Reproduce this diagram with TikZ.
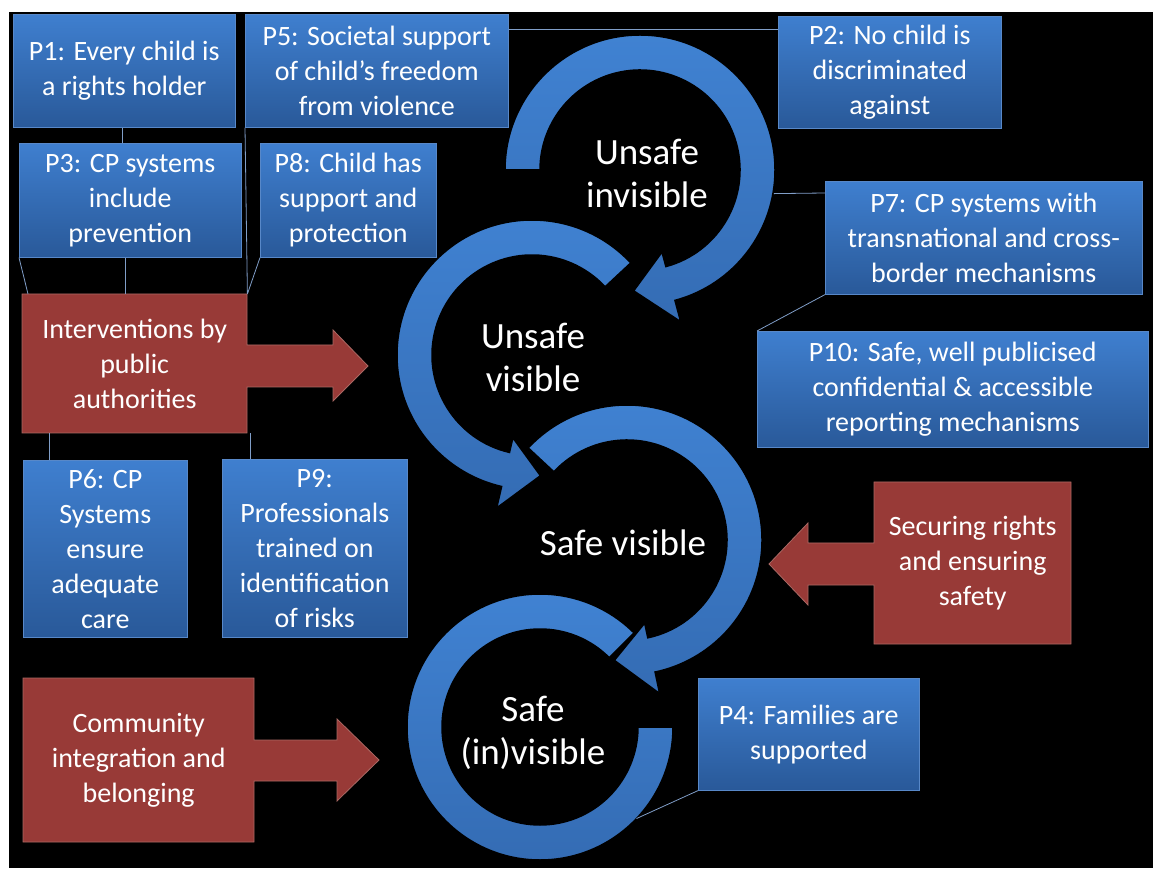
\documentclass[tikz,border=0pt]{standalone}
\usepackage{fontspec}
\setmainfont{Carlito}
\usepackage{tikz}
\usetikzlibrary{shapes,arrows,calc,positioning}
\definecolor{boxtop}{RGB}{63,127,207}
\definecolor{boxbot}{RGB}{41,89,153}
\definecolor{boxline}{RGB}{88,136,200}
\definecolor{redfill}{RGB}{152,58,55}
\definecolor{redline}{RGB}{170,105,100}
\definecolor{ringtop}{RGB}{64,130,210}
\definecolor{ringbot}{RGB}{52,108,180}
\definecolor{connline}{RGB}{128,158,200}
\tikzstyle{pbox} = [rectangle,draw=boxline,line width=0.6pt,top color=boxtop,
  bottom color=boxbot,text=white,align=center,anchor=north west,inner sep=0pt,
  font=\fontsize{28}{35}\selectfont]
\tikzstyle{rbox} = [rectangle,anchor=north west,inner sep=0pt,text=white,
  align=center,font=\fontsize{28}{35}\selectfont]
\tikzstyle{redarrow} = [fill=redfill,draw=redline,line width=0.8pt]
\tikzstyle{ring} = [top color=ringtop,bottom color=ringbot,draw=black,line width=1.5pt]
\tikzstyle{stage} = [text=white,align=center,font=\fontsize{37}{43}\selectfont]
\tikzstyle{conn} = [draw=connline,line width=0.8pt]
\newcommand{\ringarrow}[4]{%
  \shadedraw[ring] ($(#1)+(#2:135pt)$) arc[start angle=#2,end angle=#3,radius=135pt]
    -- ($(#1)+(#3:157pt)$) -- ($(#1)+(#4:121pt)$) -- ($(#1)+(#3:85pt)$)
    -- ($(#1)+(#3:100pt)$) arc[start angle=#3,end angle=#2,radius=100pt] -- cycle;}

\begin{document}
\begin{tikzpicture}[x=1pt,y=1pt]
\useasboundingbox (0,0) rectangle (1153,868);
\fill[white] (0,0) rectangle (1153,868);
\fill[black] (9,0) rectangle (1153,856);

\coordinate (c1) at (640,698);
\coordinate (c2) at (532,513);
\coordinate (c3) at (627,328);
\coordinate (c4) at (540,141);

\shadedraw[ring] ($(c4)+(0:133pt)$) arc[start angle=0,end angle=-315,radius=133pt]
  -- ($(c4)+(-315:98pt)$) arc[start angle=-315,end angle=0,radius=98pt] -- cycle;
\ringarrow{c3}{137}{-78}{-96}
\ringarrow{c2}{43}{257}{274}
\ringarrow{c1}{180}{-75}{-93}

\node[stage] (s1) at (647,695) {Unsafe\\invisible};
\node[stage] (s2) at (533,511) {Unsafe\\visible};
\node[stage] (s3) at (623,325) {Safe visible};
\node[stage] (s4) at (533,135) {Safe\\(in)visible};

\filldraw[redarrow] (22,574) -- (247,574) -- (247,523) -- (333,523) -- (333,538)
  -- (368,502) -- (333,467) -- (333,481) -- (247,481) -- (247,435) -- (22,435) -- cycle;
\filldraw[redarrow] (1071,386) -- (874,386) -- (874,325) -- (808,325) -- (808,345)
  -- (769,304) -- (808,263) -- (808,283) -- (874,283) -- (874,224) -- (1071,224) -- cycle;
\filldraw[redarrow] (23,190) -- (254,190) -- (254,128) -- (337,128) -- (337,149)
  -- (379,108) -- (337,67) -- (337,87) -- (254,87) -- (254,26) -- (23,26) -- cycle;

\node[rbox,minimum width=225pt,minimum height=139pt] (int) at (22,574)
  {Interventions by\\public\\authorities};
\node[rbox,minimum width=197pt,minimum height=162pt] (sec) at (874,386)
  {Securing rights\\and ensuring\\safety};
\node[rbox,minimum width=231pt,minimum height=164pt] (com) at (23,190)
  {Community\\integration and\\belonging};

\node[pbox,minimum width=222pt,minimum height=113pt] (p1) at (13,854)
  {P1: Every child is\\a rights holder};
\node[pbox,minimum width=263pt,minimum height=113pt] (p5) at (245,854)
  {P5: Societal support\\of child’s freedom\\from violence};
\node[pbox,minimum width=223pt,minimum height=112pt] (p2) at (778,852)
  {P2: No child is\\discriminated\\against};
\node[pbox,minimum width=222pt,minimum height=114pt] (p3) at (19,725)
  {P3: CP systems\\include\\prevention};
\node[pbox,minimum width=176pt,minimum height=114pt] (p8) at (260,725)
  {P8: Child has\\support and\\protection};
\node[pbox,minimum width=317pt,minimum height=113pt] (p7) at (825,687)
  {P7: CP systems with\\transnational and cross-\\border mechanisms};
\node[pbox,minimum width=391pt,minimum height=116pt] (p10) at (757,537)
  {P10: Safe, well publicised\\confidential \& accessible\\reporting mechanisms};
\node[pbox,minimum width=164pt,minimum height=177pt] (p6) at (23,408)
  {P6: CP\\Systems\\ensure\\adequate\\care};
\node[pbox,minimum width=185pt,minimum height=178pt] (p9) at (222,409)
  {P9:\\Professionals\\trained on\\identification\\of risks};
\node[pbox,minimum width=221pt,minimum height=112pt] (p4) at (698,190)
  {P4: Families are\\supported};

\coordinate (p1b) at ([xshift=-2pt]p1.south);
\coordinate (p3b) at ([xshift=-5pt]p3.south);
\coordinate (p5r) at ([yshift=-15pt]p5.north east);
\coordinate (p7l) at ([yshift=-12pt]p7.north west);
\coordinate (intl) at ([xshift=27pt]int.south west);
\coordinate (intr) at ([xshift=3pt]int.south east);
\draw[conn] (p1b) -- (p1b |- p3.north);
\draw[conn] (p5r) -- (p5r -| p2.west);
\draw[conn] (p5.south west) -- (int.north east);
\draw[conn] (p3.south west) -- ([xshift=6pt]int.north west);
\draw[conn] (p3b) -- (p3b |- int.north);
\draw[conn] (p8.south west) -- (int.north east);
\draw[conn] (intl) -- (intl |- p6.north);
\draw[conn] (intr) -- (intr |- p9.north);
\draw[conn] (p7l) -- ($(c1)+(-10:136pt)$);
\draw[conn] (p7.south west) -- (p10.north west);
\draw[conn] (p4.south west) -- ($(c4)+(-43.5:133pt)$);
\end{tikzpicture}
\end{document}
